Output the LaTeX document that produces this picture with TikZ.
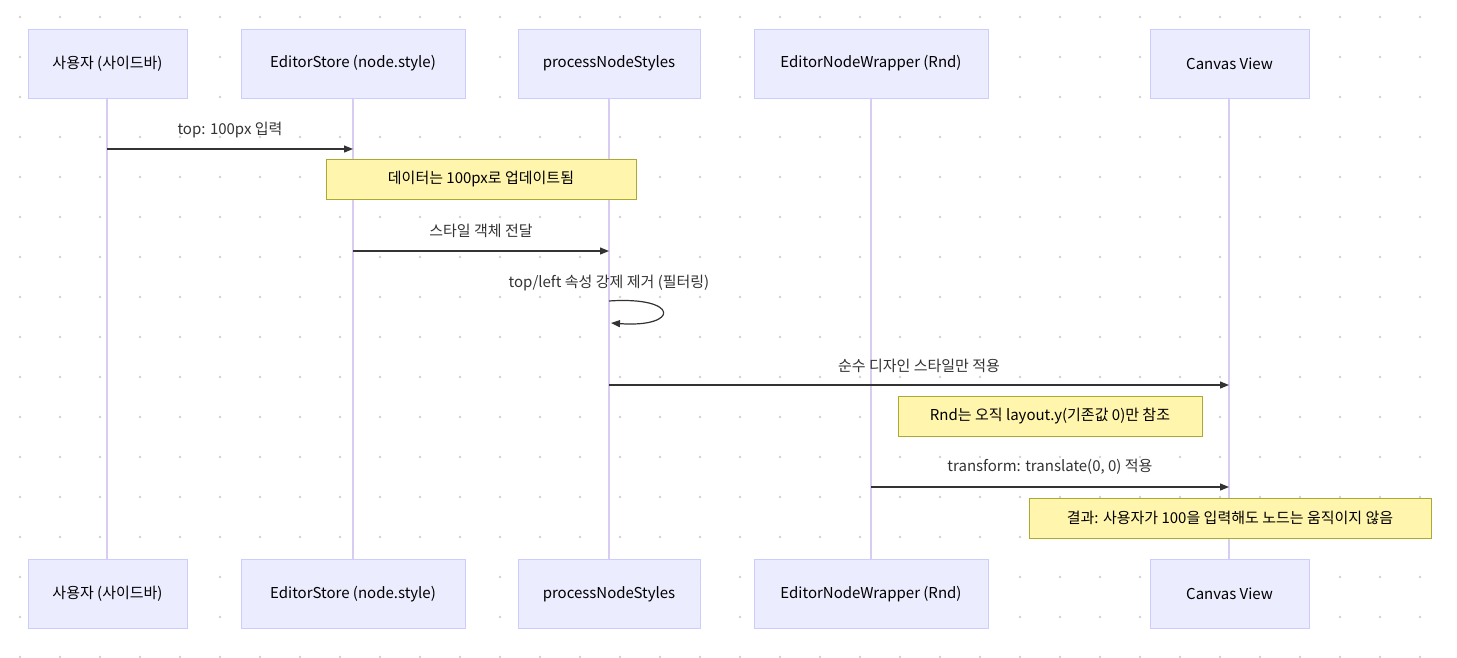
\documentclass[tikz,border=0pt]{standalone}
\usepackage{fontspec}
\setmainfont{Noto Sans CJK KR}
\usetikzlibrary{arrows.meta}
\definecolor{actfill}{HTML}{ECECFF}
\definecolor{actdraw}{HTML}{CCCCFF}
\definecolor{life}{HTML}{D9CCF2}
\definecolor{notefill}{HTML}{FFF5AD}
\definecolor{notedraw}{HTML}{AAAA33}
\definecolor{ink}{HTML}{333333}
\tikzset{
 actor/.style={draw=actdraw,fill=actfill,minimum height=69pt,inner sep=0pt,font=\fontsize{15}{18}\selectfont,text=black},
 notebox/.style={draw=notedraw,fill=notefill,minimum height=40pt,inner sep=0pt,font=\fontsize{15}{18}\selectfont,text=black},
 msg/.style={draw=ink,line width=1.2pt,-{Triangle[length=9pt,width=7pt]}},
 lbl/.style={font=\fontsize{15}{18}\selectfont,text=ink},
 lifeline/.style={draw=life,line width=1.5pt}
}
\begin{document}
\begin{tikzpicture}[x=1pt,y=-1pt]
\useasboundingbox (0,0) rectangle (1457,657);
\fill[white] (0,0) rectangle (1457,657);
\foreach \i in {0,...,36}{\foreach \j in {0,...,16}{\fill[black!18] (20+40*\i,17+40*\j) circle (1.3pt);}}
% lifelines
\foreach \x/\n in {107/a,353/b,609/c,871/d,1229/e}{
 \coordinate (\n t) at (\x,98); \coordinate (\n b) at (\x,560);
 \draw[lifeline] (\n t) -- (\n b);
 \coordinate (\n1) at (\x,149); \coordinate (\n2) at (\x,251); \coordinate (\n3) at (\x,385); \coordinate (\n4) at (\x,487);
}
\foreach \y/\s in {63.5/top,594/bot}{
\node[actor,minimum width=159pt] (A\s) at (107.5,\y) {사용자 (사이드바)};
\node[actor,minimum width=224pt] (B\s) at (353,\y) {EditorStore (node.style)};
\node[actor,minimum width=182pt] (C\s) at (609,\y) {processNodeStyles};
\node[actor,minimum width=234pt] (D\s) at (871,\y) {EditorNodeWrapper (Rnd)};
\node[actor,minimum width=159pt] (E\s) at (1229.5,\y) {Canvas View};
}
\draw[msg] (a1) -- (b1);
\node[lbl] (m1) at (230,130) {top: 100px 입력};
\node[notebox,minimum width=310pt] (n1) at (481,179.5) {데이터는 100px로 업데이트됨};
\draw[msg] (b2) -- (c2);
\node[lbl] (m2) at (481,231) {스타일 객체 전달};
\node[lbl] (m3) at (609,283) {top/left 속성 강제 제거 (필터링)};
\coordinate (s1) at (609,301); \coordinate (s2) at (611,323);
\draw[msg] (s1) .. controls (680,296) and (680,328) .. (s2);
\draw[msg] (c3) -- (e3);
\node[lbl] (m4) at (919,366) {순수 디자인 스타일만 적용};
\node[notebox,minimum width=304pt] (n2) at (1050,416.5) {Rnd는 오직 layout.y(기존값 0)만 참조};
\draw[msg] (d4) -- (e4);
\node[lbl] (m5) at (1050,467) {transform: translate(0, 0) 적용};
\node[notebox,minimum width=402pt] (n3) at (1230,518) {결과: 사용자가 100을 입력해도 노드는 움직이지 않음};
\end{tikzpicture}
\end{document}
